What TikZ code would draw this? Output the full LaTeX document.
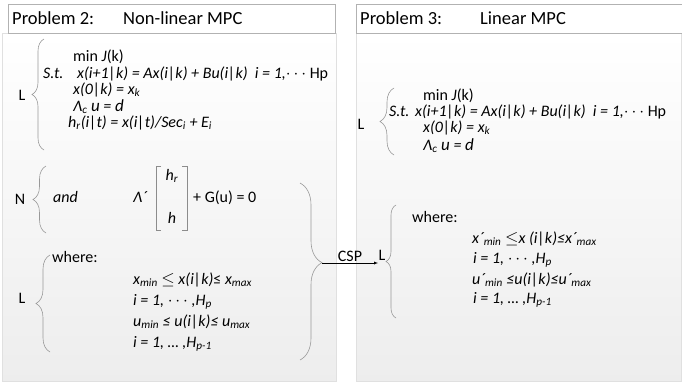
\documentclass[tikz,border=0pt]{standalone}
\usepackage{fontspec}
\setmainfont{Carlito}
\usepackage{tikz}
\usetikzlibrary{decorations.pathreplacing}
\newcommand{\sbs}[1]{\textsubscript{#1}}
\newcommand{\bg}[1]{{\fontsize{17}{17}\selectfont #1}}

\begin{document}
\begin{tikzpicture}[auto, x=1pt, y=-1pt, font=\fontsize{16}{18}\selectfont,
    txt/.style={anchor=west, inner sep=0pt, text height=10pt, text depth=2pt},
    hd/.style={anchor=west, inner sep=0pt, font=\fontsize{18.5}{20}\selectfont},
    brc/.style={draw=black!40, line width=0.6pt, decorate, decoration={brace, amplitude=#1}},
    box/.style={draw=black!12, top color=white, bottom color=black!7},
    bar/.style={draw=black!30, line width=0.5pt, fill=white}]
    \useasboundingbox (0,0) rectangle (682,383);
    \path[box] (2,33) rectangle (336,381);
    \path[box] (356,33) rectangle (681,381);
    \path[bar] (8,4) rectangle (335,33);
    \path[bar] (356,4) rectangle (682,33);
    \node[hd] (p) at (12,18) {Problem 2:};
    \node[hd] (q) at (123,18) {Non-linear MPC};
    \node[hd] (r) at (360,18) {Problem 3:};
    \node[hd] (s) at (480,18) {Linear MPC};
    \node (l) at (22,95) {L};
    \node (n) at (20,199) {N};
    \node (m) at (22,298) {L};
    \node (u) at (361,124) {L};
    \node[inner sep=0pt] (v) at (382,255) {L};
    \node[txt] (a) at (73,57) {min \textit{J}(k)};
    \node[txt] (b) at (43,74) {\textit{S.t.}};
    \node[txt] (c) at (77,74) {{\itshape x(i+1|k) = Ax(i|k) + Bu(i|k)\ \ i = 1,}$\cdots$ Hp};
    \node[txt] (d) at (73,90) {\itshape x(0|k) = x\sbs{k}};
    \node[txt] (e) at (73,107) {\itshape Λ\sbs{c} \bg{u} = \bg{d}};
    \node[txt] (f) at (68,123) {\itshape h\sbs{r}(i|t) = x(i|t)/Sec\sbs{i} + E\sbs{i}};
    \node[txt] (g) at (53,198) {\itshape and};
    \node[txt] (h) at (133,198) {\itshape Λ´};
    \node (i) at (172,176) {\itshape h\sbs{r}};
    \node (j) at (172,218) {\itshape h};
    \node[txt] (k) at (193,198) {+ G(u) = 0};
    \node[txt] (w) at (52,258) {where:};
    \node[txt] (x1) at (133,280) {{\itshape x\sbs{min}} $\leq$ {\itshape x(i|k)}≤ {\itshape x\sbs{max}}};
    \node[txt] (x2) at (133,301) {{\itshape i = 1, }$\cdots${\itshape\ ,H\sbs{p}}};
    \node[txt] (x3) at (133,322) {\itshape u\sbs{min} ≤ u(i|k)≤ u\sbs{max}};
    \node[txt] (x4) at (133,343) {\itshape i = 1, … ,H\sbs{p-1}};
    \node[txt] (a2) at (423,96) {min \textit{J}(k)};
    \node[txt] (b2) at (389,112) {\textit{S.t.}};
    \node[txt] (c2) at (415,112) {{\itshape x(i+1|k) = Ax(i|k) + Bu(i|k)\ \ i = 1,}$\cdots$ Hp};
    \node[txt] (d2) at (423,128) {\itshape x(0|k) = x\sbs{k}};
    \node[txt] (e2) at (423,146) {\itshape Λ\sbs{c} \bg{u} = \bg{d}};
    \node[txt] (w2) at (412,218) {where:};
    \node[txt] (y1) at (472,239) {{\itshape x´\sbs{min} }$\leq${\itshape x (i|k)≤x´\sbs{max}}};
    \node[txt] (y2) at (473,259) {{\itshape i = 1, }$\cdots${\itshape\ ,H\sbs{p}}};
    \node[txt] (y3) at (472,280) {\itshape u´\sbs{min} ≤u(i|k)≤u´\sbs{max}};
    \node[txt] (y4) at (473,299) {\itshape i = 1, … ,H\sbs{p-1}};
    \draw[brc=12] (44,150) -- (44,39);
    \draw[brc=13] (46,233) -- (46,166);
    \draw[brc=14] (50,352) -- (50,255);
    \draw[brc=22, decoration={aspect=0.45}] (300,183) -- (300,360);
    \draw[brc=14] (394,155) -- (394,88);
    \draw[brc=10] (396,318) -- (396,205);
    \draw[black!45] (161,166) -- (156,166) -- (156,230) -- (161,230);
    \draw[black!45] (182,166) -- (187,166) -- (187,230) -- (182,230);
    \coordinate (t) at (322,263);
    \coordinate (o) at (378,263);
    \draw[-latex] (t) to node[inner sep=1.5pt] {CSP} (o);
\end{tikzpicture}
\end{document}
